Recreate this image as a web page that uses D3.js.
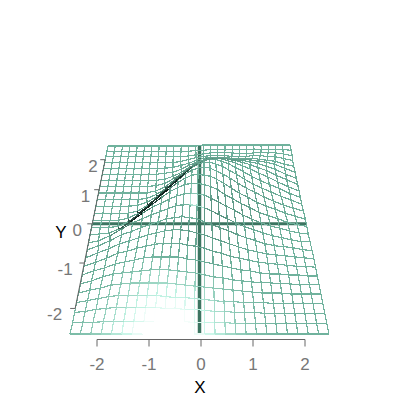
<!DOCTYPE html>
<html><head><meta charset="utf-8"><style>html,body{margin:0;background:#fff}svg{display:block}text{font-family:"Liberation Sans",Arial,sans-serif}</style>
<script src="https://cdn.jsdelivr.net/npm/d3@7"></script></head><body><script>
const xValues=[-2.5,-2.3,-2.1,-1.9,-1.7,-1.5,-1.3,-1.1,-0.9,-0.7,-0.5,-0.3,-0.1,0.1,0.3,0.5,0.7,0.9,1.1,1.3,1.5,1.7,1.9,2.1,2.3,2.5];
const yValues=[-2.5,-2.3,-2.1,-1.9,-1.7,-1.5,-1.3,-1.1,-0.9,-0.7,-0.5,-0.3,-0.1,0.1,0.3,0.5,0.7,0.9,1.1,1.3,1.5,1.7,1.9,2.1,2.3,2.5];
const heights=[
[0,0,0,0,0,0,0,0,0,0,0,0,0,0,0,0,0,0,0,0,0,0,0,0,0,0],
[1,1,1,2,2,2,2,2,2,2,2,2,1,1,1,1,0,0,0,0,0,0,0,0,0,0],
[1,2,4,5,6,6,6,6,6,5,5,4,4,3,2,2,1,1,1,0,0,0,0,0,0,0],
[1,3,5,7,8,8,8,8,8,7,6,6,5,4,3,2,2,1,1,1,0,0,0,0,0,0],
[1,4,6,9,10,11,11,11,11,11,10,9,8,7,6,5,4,3,2,1,1,1,0,0,0,0],
[1,4,8,11,12,13,14,15,15,15,14,13,12,10,8,7,5,4,3,2,2,1,1,0,0,0],
[1,5,8,12,14,16,18,19,19,19,19,17,16,14,12,10,8,6,5,3,2,2,1,1,0,0],
[1,5,9,14,16,19,21,23,24,24,24,22,21,19,16,14,11,9,7,5,4,3,2,1,1,0],
[1,6,10,15,18,21,24,26,28,29,29,28,26,24,21,18,15,12,9,7,5,4,3,2,1,0],
[1,5,10,16,19,23,26,29,32,33,34,33,32,29,26,23,20,16,13,10,7,5,4,3,1,0],
[0,2,7,14,20,24,28,31,34,37,38,38,37,35,32,28,24,20,16,13,10,7,5,3,1,1],
[0,1,2,6,14,22,28,32,36,39,41,42,41,40,37,33,29,25,20,16,12,9,7,4,2,1],
[0,0,0,1,6,15,23,30,36,40,43,44,44,43,41,38,33,29,24,20,15,12,9,5,3,1],
[0,0,0,0,2,7,16,25,32,38,42,45,46,45,44,41,37,32,27,23,18,14,11,7,4,1],
[0,0,0,0,0,2,8,17,26,33,39,43,45,46,45,42,39,35,30,25,21,16,12,8,5,2],
[0,0,0,0,0,1,4,10,18,26,33,39,42,44,44,42,40,36,32,27,22,18,14,10,6,2],
[0,0,0,0,0,0,1,5,11,19,26,33,37,39,40,40,38,36,32,28,23,19,15,11,6,2],
[0,0,0,0,0,0,0,2,6,13,19,26,30,33,35,35,34,32,30,27,24,20,16,11,6,2],
[0,0,0,0,0,0,0,1,3,8,13,19,23,27,29,29,29,27,26,24,22,19,16,11,7,2],
[0,0,0,0,0,0,0,0,1,4,8,13,17,20,22,23,22,21,20,20,18,17,14,11,6,2],
[0,0,0,0,0,0,0,0,1,2,5,9,12,14,16,17,16,15,15,15,14,13,12,10,6,2],
[0,0,0,0,0,0,0,0,0,1,3,5,8,10,11,11,11,10,10,10,10,9,8,7,4,2],
[0,0,0,0,0,0,0,0,0,0,1,3,5,6,7,7,7,6,6,6,7,7,6,6,4,2],
[0,0,0,0,0,0,0,0,0,0,0,1,2,3,4,4,4,4,3,3,4,4,4,4,3,1],
[0,0,0,0,0,0,0,0,0,0,0,0,1,1,2,2,2,2,2,2,2,2,2,2,2,1],
[0,0,0,0,0,0,0,0,0,0,0,0,0,1,1,1,1,1,1,1,1,1,1,1,1,1]];
const xTicks=[-2,-1,0,1,2], yTicks=[-2,-1,0,1,2];
const svg=d3.select('body').append('svg').attr('width',400).attr('height',400);
const inv=d3.scaleLinear().domain([-2.5,2.5]).range([1/129.5,1/91.5]);
const vOf=d3.scaleLinear().domain([91.5,129.5]).range([146,334]);
const cx=199.5, VP=[205,60];
function plane(x,y){const s=1/inv(y);return [cx+x/2.5*s,vOf(s)];}
function proj(x,y,z){const P=plane(x,y);const t=z/(P[1]-VP[1]);return [P[0]+t*(VP[0]-P[0]),P[1]+t*(VP[1]-P[1])];}
const line=d3.line();
const g=svg.append('g').attr('fill','none').attr('stroke','#3c7561');
g.append('path').attr('d',line([plane(0,-2.5),plane(0,2.5)])).attr('stroke-width',3.5);
g.append('path').attr('d',line([plane(-2.5,0),plane(2.5,0)])).attr('stroke-width',3);
const col=d3.scaleLinear().domain([0,.14,.42,.75,1]).range(['#ffffff','#c4f5e6','#70b29d','#4a7d6d','#0d1f1a']);
const n=xValues.length;
function shade(i,j){
 const iL=Math.max(i-1,0),iR=Math.min(i+1,n-1),jL=Math.max(j-1,0),jR=Math.min(j+1,n-1);
 const zx=(heights[j][iR]-heights[j][iL])/((iR-iL)*.2)/50, zy=(heights[jR][i]-heights[jL][i])/((jR-jL)*.2)/50;
 const x=xValues[i],y=yValues[j];
 const gl=Math.exp(-(((x+.7)*(x+.7))/1.3+((y+2.6)*(y+2.6))/.9))+0.7*Math.exp(-(((x+.2)*(x+.2))/.04+((y+.5)*(y+.5))/.04));
 const dk=Math.min(1,Math.hypot(zx*.8,zy)/.9);
 return Math.max(0,Math.min(1,.42+.58*dk*dk*dk-.5*gl));
}
const wires=svg.append('g').attr('fill','none').attr('stroke-width',1.2).attr('shape-rendering','crispEdges');
heights.forEach((row,j)=>row.forEach((z,i)=>{
 const P=proj(xValues[i],yValues[j],z);
 if(i<n-1)wires.append('path').attr('d',line([P,proj(xValues[i+1],yValues[j],row[i+1])])).attr('stroke',col(shade(i,j)));
 if(j<n-1)wires.append('path').attr('d',line([P,proj(xValues[i],yValues[j+1],heights[j+1][i])])).attr('stroke',col(shade(i,j)));
}));
const xS=d3.scaleLinear().domain([-2,2]).range([97,305]);
const labelGap=d3.scaleLinear().domain([2,-2]).range([7.5,13]);
const ax=svg.append('g').attr('fill','#777');
const rules=svg.append('g').attr('fill','none').attr('stroke','#666');
rules.append('path').attr('d',line([[xS(-2),339.5],[xS(2),339.5]]));
xTicks.forEach(t=>{rules.append('path').attr('d',line([[xS(t),339.5],[xS(t),346.5]]));
 ax.append('text').attr('x',xS(t)).attr('y',370).attr('text-anchor','middle').attr('font-size',17).text(t);});
rules.append('path').attr('d',line([plane(-2.5,2),plane(-2.5,-2)]));
yTicks.forEach(t=>{const P=plane(-2.5,t);rules.append('path').attr('d',line([P,[P[0]-5,P[1]]]));
 ax.append('text').attr('x',P[0]-labelGap(t)).attr('y',P[1]+12).attr('text-anchor','end').attr('font-size',17).text(t);});
svg.append('text').attr('x',200).attr('y',393).attr('text-anchor','middle').attr('font-size',17).text('X');
svg.append('text').attr('x',61).attr('y',238).attr('text-anchor','middle').attr('font-size',17).text('Y');
</script></body></html>
